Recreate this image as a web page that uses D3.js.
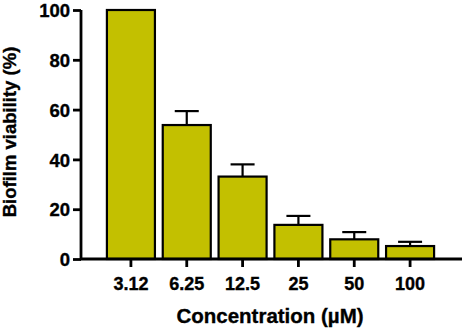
<!DOCTYPE html>
<html>
<head>
<meta charset="utf-8">
<script src="https://cdn.jsdelivr.net/npm/d3@7"></script>
<style>
  body { margin: 0; background: #fff; }
  text { font-family: "Liberation Sans", Arial, sans-serif; font-weight: bold; fill: #000; stroke: #000; stroke-width: 0.35px; }
</style>
</head>
<body>
<div id="chart"></div>
<script>
const concentrations = ["3.12", "6.25", "12.5", "25", "50", "100"];
const viability = [100, 53.8, 33.1, 13.7, 7.9, 5.2];
const errorTop = [100, 59.4, 38.0, 17.3, 10.8, 6.9];
const yTicks = [0, 20, 40, 60, 80, 100];

const width = 464, height = 330;

const svg = d3.select("#chart")
    .append("svg")
    .attr("width", width)
    .attr("height", height);

const xScale = d3.scaleBand()
    .domain(concentrations)
    .range([103, 438])
    .paddingInner(0.14)
    .paddingOuter(0.07);

const yScale = d3.scaleLinear()
    .domain([0, 100])
    .range([259, 10]);

// bars
svg.selectAll(".bar")
    .data(concentrations)
    .enter()
    .append("rect")
        .attr("x", d => xScale(d))
        .attr("y", (d, i) => yScale(viability[i]))
        .attr("width", xScale.bandwidth())
        .attr("height", (d, i) => yScale(0) - yScale(viability[i]))
        .style("fill", "#c3c000")
        .style("stroke", "#000")
        .style("stroke-width", 2.2);

// error bars (upper only)
const err = svg.selectAll(".err")
    .data(concentrations.filter((d, i) => errorTop[i] > viability[i]))
    .enter()
    .append("g")
    .style("stroke", "#000")
    .style("stroke-width", 2.2);

err.append("line")
    .attr("x1", d => xScale(d) + xScale.bandwidth() / 2)
    .attr("x2", d => xScale(d) + xScale.bandwidth() / 2)
    .attr("y1", d => yScale(viability[concentrations.indexOf(d)]))
    .attr("y2", d => yScale(errorTop[concentrations.indexOf(d)]));

err.append("line")
    .attr("x1", d => xScale(d) + xScale.bandwidth() / 4)
    .attr("x2", d => xScale(d) + xScale.bandwidth() * 3 / 4)
    .attr("y1", d => yScale(errorTop[concentrations.indexOf(d)]))
    .attr("y2", d => yScale(errorTop[concentrations.indexOf(d)]));

// y axis
const yAxis = svg.append("g")
    .attr("transform", "translate(81,0)")
    .call(d3.axisLeft(yScale).tickValues(yTicks).tickSize(8).tickPadding(3).tickSizeOuter(0));
yAxis.select(".domain").attr("d", "M0,10V259").style("stroke-width", 2.8);
yAxis.selectAll(".tick line").style("stroke-width", 2.8);
yAxis.selectAll("text").style("font-size", "18.5px").attr("dy", "0.36em");

// x axis
const xAxis = svg.append("g")
    .attr("transform", "translate(0,259)")
    .call(d3.axisBottom(xScale).tickSize(8).tickPadding(10).tickSizeOuter(0));
xAxis.select(".domain").attr("d", "M80,0H462").style("stroke-width", 2.8);
xAxis.selectAll(".tick line").style("stroke-width", 2.8);
xAxis.selectAll("text").style("font-size", "18px");

// axis titles
svg.append("text")
    .attr("transform", "translate(16,132) rotate(-90)")
    .attr("text-anchor", "middle")
    .style("font-size", "18.5px")
    .text("Biofilm viability (%)");

svg.append("text")
    .attr("x", 270)
    .attr("y", 323)
    .attr("text-anchor", "middle")
    .style("font-size", "20.5px")
    .text("Concentration (µM)");
</script>
</body>
</html>
